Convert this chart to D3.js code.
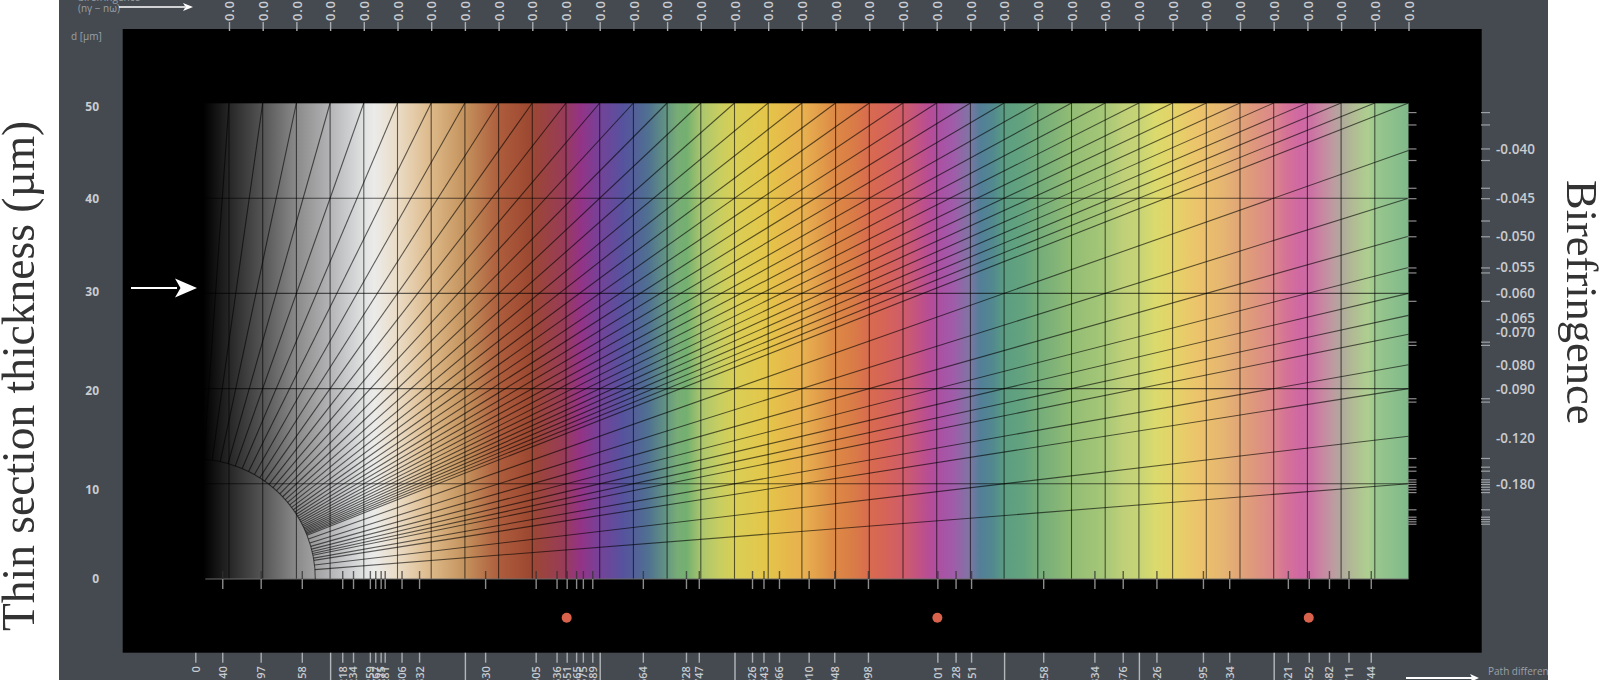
<!DOCTYPE html>
<html><head><meta charset="utf-8">
<script src="https://cdn.jsdelivr.net/npm/d3@7/dist/d3.min.js"></script>
<style>
html,body{margin:0;padding:0;background:#fff;overflow:hidden}
svg{display:block;filter:blur(.45px)}
text{font-family:"Open Sans",sans-serif}
.domain{display:none}
</style></head><body>
<svg id="c" width="1600" height="680"></svg>
<script>
const pathTicks=[0,40,97,158,218,234,259,267,275,281,306,332,430,505,536,551,565,575,589,664,728,747,826,843,866,910,948,998,1101,1128,1151,1258,1334,1376,1426,1495,1534,1621,1652,1682,1711,1744];
const longTicks=[200,400,600,800,1200,1400,1600];
const orderMarks=[551,1101,1652];
const gridPath=[50,100,150,200,250,300,350,400,450,500,550,600,650,700,750,800,850,900,950,1000,1050,1100,1150,1200,1250,1300,1350,1400,1450,1500,1550,1600,1650,1700,1750];
const gridThick=[10,20,30,40,50];
const thickLabels=[0,10,20,30,40,50];
const thickLabelRows=[579,490,390.7,291.7,199,107];
const topBiref=[0.001,0.002,0.003,0.004,0.005,0.006,0.007,0.008,0.009,0.010,0.011,0.012,0.013,0.014,0.015,0.016,0.017,0.018,0.019,0.020,0.021,0.022,0.023,0.024,0.025,0.026,0.027,0.028,0.029,0.030,0.031,0.032,0.033,0.034,0.035,0.036];
const rightBiref=[0.040,0.045,0.050,0.055,0.060,0.065,0.070,0.080,0.090,0.120,0.180];
const mineralBiref=[0.0367,0.0377,0.0398,0.0409,0.0438,0.0450,0.0478,0.0500,0.0550,0.0559,0.0616,0.0722,0.0732,0.0948,0.0966,0.1416,0.1526,0.1582,0.1719,0.1761,0.1804,0.1857,0.1910,0.1972,0.2459,0.275,0.2856,0.297,0.31];
const colorNm=[0,12,50,100,150,200,250,265,300,350,400,452,497,545,571,600,635,670,694,715,729,751,778,803,850,878,902,927,951,976,1000,1026,1050,1075,1090,1101,1125,1149,1164,1184,1201,1229,1250,1278,1301,1350,1377,1400,1425,1450,1476,1500,1525,1550,1575,1600,1619,1641,1651,1668,1688,1700,1718,1740,1751,1776,1800];
const colorHex=["#000000","#000000","#262626","#555555","#8a8a8a","#b4b4b6","#e0e2e2","#ebebe9","#ecdcc4","#e0b882","#c99156","#b45a36","#a4462e","#a03a56","#9c308c","#7840a0","#5552a6","#4d6f96","#5a8f85","#74ae72","#6fb26a","#a9c765","#c8cf55","#dccf48","#e8c53c","#ebb83f","#eeb044","#e89c40","#e5863d","#e27a3f","#e2694a","#e06055","#d95a68","#c94f88","#bf4a9c","#b54ba8","#a55ab0","#7f74a8","#4f7f9c","#4d8a90","#56a080","#5fa57c","#6fae76","#7fb672","#90bf6e","#a4c870","#bfd170","#c6d56c","#dcdb62","#e6d45c","#eec860","#f0bf62","#eab46a","#e6a472","#e4937a","#e3858a","#dd6f98","#d864a8","#d369a8","#d080a4","#c19aa0","#b0a89a","#b0bc90","#acd08a","#96c888","#88c288","#7dbb86"];

const svg=d3.select("#c");
const x=d3.scaleLinear().domain([0,1800]).range([195.3,1408.5]);
const y=d3.scaleLinear().domain([0,50]).range([579,103]);
const labelY=d3.scaleLinear().domain(thickLabels).range(thickLabelRows);
const arcPx=120, ink="rgba(0,0,0,.6)", pale="#c9ccd0";
const innerTicks=pathTicks.slice(1);

svg.append("rect").attr("x",59).attr("y",0).attr("width",1489).attr("height",680).attr("fill","#454a51");
svg.append("rect").attr("x",122.7).attr("y",29).attr("width",1359).attr("height",623.7).attr("fill","#000");

const grad=svg.append("defs").append("linearGradient").attr("id","ml").attr("gradientUnits","userSpaceOnUse")
  .attr("x1",x(0)).attr("x2",x(1800)).attr("y1",0).attr("y2",0);
grad.selectAll("stop").data(colorNm).join("stop")
  .attr("offset",d=>d/1800).attr("stop-color",(d,i)=>colorHex[i]);
svg.select("defs").append("clipPath").attr("id","panel").append("rect").attr("x",59).attr("y",0).attr("width",1489).attr("height",690);
svg.append("rect").attr("x",x(0)).attr("y",y(50)).attr("width",x(1800)-x(0)).attr("height",y(0)-y(50)).attr("fill","url(#ml)").style("filter","saturate(.9)");

// grid
svg.append("g").selectAll("line").data(gridPath).join("line")
  .attr("x1",d=>x(d)).attr("x2",d=>x(d)).attr("y1",y(50)).attr("y2",y(0))
  .attr("stroke",ink).attr("stroke-width",1.1);
svg.append("g").selectAll("line").data(gridThick).join("line")
  .attr("x1",x(0)).attr("x2",x(1800)).attr("y1",d=>y(d)).attr("y2",d=>y(d))
  .attr("stroke",ink).attr("stroke-width",1.1);
svg.append("line").attr("x1",x(0)+10).attr("x2",x(1800)).attr("y1",y(0)).attr("y2",y(0)).attr("stroke","#6a6a6a");

// birefringence rays, from the arc to the edge of the field
const ray=d3.line();
svg.append("g").selectAll("path").data(topBiref.concat(rightBiref)).join("path")
  .attr("d",b=>{
    const d=Math.min(50,1.8/b), R=Math.min(1800,50*b*1000);
    const ex=x(R)-x(0), ey=y(d)-y(0), k=arcPx/Math.hypot(ex,ey);
    return ray([[x(0)+ex*k,y(0)+ey*k],[x(R),y(d)]]);
  }).attr("fill","none").attr("stroke",ink).attr("stroke-width",1.1);
svg.append("path").attr("transform",`translate(${x(0)},${y(0)})`)
  .attr("d",d3.arc()({innerRadius:arcPx,outerRadius:arcPx,startAngle:0,endAngle:Math.PI/2}))
  .attr("fill","none").attr("stroke",ink).attr("stroke-width",1.1);

// bottom axes
function styleTicks(g,col,w){g.selectAll(".tick line").attr("stroke",col).attr("stroke-width",w||1.4);g.selectAll(".domain").remove();}
svg.append("g").attr("transform",`translate(0,${y(0)})`)
  .call(d3.axisTop(x).tickValues(innerTicks).tickSize(8).tickFormat(""))
  .call(g=>styleTicks(g,"rgba(50,50,50,.75)"));
svg.append("g").attr("transform",`translate(0,${y(0)})`)
  .call(d3.axisBottom(x).tickValues(innerTicks).tickSize(10).tickFormat(""))
  .call(g=>styleTicks(g,"#8c8c8c"));
svg.append("g").attr("transform","translate(0,652.7)")
  .call(d3.axisBottom(x).tickValues(pathTicks).tickSize(10).tickFormat(d=>d))
  .call(g=>styleTicks(g,"#a9adb1"))
  .call(g=>g.selectAll("text").attr("transform","rotate(-90)").attr("x",-13.5).attr("y",0).attr("dy",".36em")
    .attr("text-anchor","end").attr("fill",pale).attr("font-size",11).attr("font-weight",600).attr("font-family",'"Open Sans",sans-serif'));
svg.append("g").attr("transform","translate(0,652.7)")
  .call(d3.axisBottom(x).tickValues(longTicks).tickSize(30).tickFormat(""))
  .call(g=>styleTicks(g,"#b4b7ba"));

// order marks
svg.append("g").selectAll("circle").data(orderMarks).join("circle")
  .attr("cx",d=>x(d)).attr("cy",617.7).attr("r",5).attr("fill","#d9624c");

// top axis
const topScale=d3.scaleLinear().domain([0,0.036]).range([x(0),x(1800)]);
svg.append("g").attr("transform","translate(0,31)")
  .call(d3.axisTop(topScale).tickValues(topBiref).tickSize(9).tickFormat(d3.format(".3f")))
  .call(g=>styleTicks(g,"#a9adb1"))
  .call(g=>g.selectAll("text").attr("transform","rotate(-90)").attr("x",10).attr("y",0).attr("dy",".36em")
    .attr("text-anchor","start").attr("fill",pale).attr("font-size",13).attr("font-weight",600).attr("letter-spacing",.8).attr("font-family",'"Open Sans",sans-serif'));

// right axes
const mineralD=mineralBiref.map(b=>1.8/b);
[1407.5,1481].forEach((px,i)=>svg.append("g").attr("transform",`translate(${px},0)`)
  .call(d3.axisRight(y).tickValues(mineralD).tickSize(9).tickFormat(""))
  .call(g=>styleTicks(g,i?"#9da1a5":"#8c8c8c",1.2)));
const nudge={"-0.065":3,"-0.070":-2.3,"-0.120":2,"-0.040":-1.5};
svg.append("g").attr("transform","translate(1481,0)")
  .call(d3.axisRight(y).tickValues(rightBiref.map(b=>1.8/b)).tickSize(0).tickPadding(15).tickFormat(d=>"-"+(1.8/d).toFixed(3)))
  .call(g=>g.selectAll("text").attr("fill",pale).attr("font-size",13.5).attr("font-weight",600).attr("font-family",'"Open Sans",sans-serif')
    .attr("dy",function(){return (nudge[this.textContent]||0)+4.5;}));

// left labels
svg.append("g").attr("transform","translate(99,0)")
  .call(d3.axisLeft(labelY).tickValues(thickLabels).tickSize(0).tickPadding(0).tickFormat(d=>d))
  .call(g=>g.selectAll("text").attr("fill",pale).attr("font-size",12).attr("font-weight",700).attr("font-family",'"Open Sans",sans-serif'));

// captions
const cap=svg.append("g").attr("fill","#9aa0a6").attr("font-size",10);
cap.append("text").attr("x",71).attr("y",40).text("d [µm]");
cap.append("text").attr("x",78).attr("y",1).text("birefringence");
cap.append("text").attr("x",78).attr("y",12).text("(nγ − nω)");
const pd=svg.append("g").attr("clip-path","url(#panel)").attr("fill","#9aa0a6").attr("font-size",10);
pd.append("text").attr("x",1488).attr("y",675).text("Path difference");
pd.append("text").attr("x",1488).attr("y",688).text("(WLS nm)");

// arrows
function arrow(x0,x1,yy,hl,hw,sw){
  const g=svg.append("g");
  g.append("line").attr("x1",x0).attr("x2",x1-hl+2).attr("y1",yy).attr("y2",yy).attr("stroke","#fff").attr("stroke-width",sw);
  g.append("path").attr("fill","#fff").attr("d",`M${x1},${yy}L${x1-hl},${yy-hw}L${x1-hl+hl*.25},${yy}L${x1-hl},${yy+hw}Z`);
}
arrow(131,197,288,22,9.5,2);
arrow(119,193,7,10,4,1.5);
arrow(1406,1479,678,9,4,2);

// outer captions
svg.append("text").attr("transform","translate(34,631) rotate(-90)").attr("font-size",45.5)
  .style("font-family",'"Liberation Serif",serif').attr("fill","#333").text("Thin section thickness (µm)");
svg.append("text").attr("transform","translate(1567,180) rotate(90)").attr("font-size",44.5)
  .style("font-family",'"Liberation Serif",serif').attr("fill","#333").text("Birefringence");
</script></body></html>
